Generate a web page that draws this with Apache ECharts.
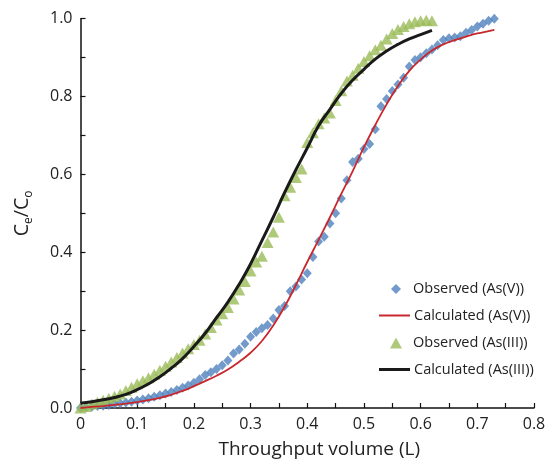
<!DOCTYPE html>
<html>
<head>
<meta charset="utf-8">
<script src="https://cdn.jsdelivr.net/npm/echarts@6/dist/echarts.min.js"></script>
<style>
  html, body { margin: 0; padding: 0; background: #fff; }
  #chart { width: 552px; height: 465px; }
</style>
</head>
<body>
<div id="chart"></div>
<script>
// Breakthrough curves: throughput volume (L) vs. Ce/Co

// Observed As(V)
const obsVx = [0.00,0.01,0.02,0.03,0.04,0.05,0.06,0.07,0.08,0.09,0.10,0.11,0.12,0.13,0.14,0.15,0.16,0.17,0.18,0.19,
  0.20,0.21,0.22,0.23,0.24,0.25,0.26,0.27,0.28,0.29,0.30,0.31,0.32,0.33,0.34,0.35,0.36,0.37,0.38,0.39,
  0.40,0.41,0.42,0.43,0.44,0.45,0.46,0.47,0.48,0.49,0.50,0.51,0.52,0.53,0.54,0.55,0.56,0.57,0.58,0.59,
  0.60,0.61,0.62,0.63,0.64,0.65,0.66,0.67,0.68,0.69,0.70,0.71,0.72,0.73];
const obsVy = [0.000,0.002,0.003,0.005,0.006,0.008,0.010,0.012,0.014,0.016,0.019,0.022,0.025,0.029,0.033,0.037,0.041,0.046,0.052,0.058,
  0.065,0.074,0.085,0.092,0.100,0.110,0.122,0.140,0.150,0.165,0.183,0.195,0.205,0.213,0.230,0.252,0.262,0.300,0.312,0.330,
  0.346,0.388,0.428,0.440,0.474,0.500,0.538,0.585,0.632,0.640,0.665,0.678,0.716,0.775,0.794,0.814,0.831,0.848,0.877,0.894,
  0.901,0.911,0.921,0.932,0.945,0.950,0.952,0.955,0.964,0.971,0.980,0.987,0.995,1.000];

// Calculated As(V)
const calcVx = [0.00,0.02,0.04,0.06,0.08,0.10,0.12,0.14,0.16,0.18,0.20,0.22,0.24,0.26,0.28,0.30,0.32,0.34,0.36,0.38,
  0.40,0.42,0.44,0.46,0.48,0.50,0.52,0.54,0.56,0.58,0.60,0.62,0.64,0.66,0.68,0.70,0.72,0.73];
const calcVy = [0.000,0.003,0.005,0.008,0.011,0.015,0.020,0.026,0.034,0.044,0.056,0.069,0.083,0.099,0.119,0.142,0.172,0.212,0.260,0.316,
  0.375,0.432,0.490,0.550,0.608,0.670,0.727,0.780,0.827,0.866,0.895,0.918,0.934,0.945,0.954,0.962,0.968,0.971];

// Observed As(III)
const obsIIIx = [0.00,0.01,0.02,0.03,0.04,0.05,0.06,0.07,0.08,0.09,0.10,0.11,0.12,0.13,0.14,0.15,0.16,0.17,0.18,0.19,
  0.20,0.21,0.22,0.23,0.24,0.25,0.26,0.27,0.28,0.29,0.30,0.31,0.32,0.33,0.34,0.35,0.36,0.37,0.38,0.39,
  0.40,0.41,0.42,0.43,0.44,0.45,0.46,0.47,0.48,0.49,0.50,0.51,0.52,0.53,0.54,0.55,0.56,0.57,0.58,0.59,
  0.60,0.61,0.62];
const obsIIIy = [0.000,0.004,0.010,0.015,0.020,0.025,0.030,0.036,0.045,0.053,0.062,0.070,0.078,0.087,0.097,0.107,0.118,0.130,0.141,0.152,
  0.163,0.174,0.190,0.207,0.226,0.242,0.258,0.280,0.303,0.325,0.352,0.375,0.390,0.425,0.452,0.490,0.545,0.567,0.592,0.614,
  0.682,0.707,0.730,0.745,0.758,0.790,0.815,0.840,0.855,0.873,0.890,0.905,0.920,0.932,0.948,0.962,0.972,0.980,0.987,0.992,
  0.995,0.996,0.995];

// Calculated As(III)
const calcIIIx = [0.00,0.02,0.04,0.06,0.08,0.10,0.12,0.14,0.16,0.18,0.20,0.22,0.24,0.26,0.28,0.30,0.32,0.34,0.36,0.38,
  0.40,0.42,0.44,0.46,0.48,0.50,0.52,0.54,0.56,0.58,0.60,0.62];
const calcIIIy = [0.012,0.016,0.021,0.027,0.035,0.047,0.062,0.080,0.102,0.127,0.158,0.192,0.232,0.272,0.318,0.370,0.430,0.490,0.553,0.612,
  0.668,0.725,0.767,0.808,0.842,0.870,0.896,0.917,0.934,0.948,0.959,0.970];

const xTicks = { min: 0, max: 0.8, step: 0.1 };
const yTicks = { min: 0, max: 1.0, step: 0.2 };

const seriesNames = ['Observed (As(V))', 'Calculated (As(V))', 'Observed (As(III))', 'Calculated (As(III))'];

const pairs = (xs, ys) => xs.map((x, i) => [x, ys[i]]);

const FONT = 'Open Sans';
const INK = '#222';
const chart = echarts.init(document.getElementById('chart'), null, { renderer: 'canvas' });

const axisCommon = {
  axisLine: { show: true, onZero: false, lineStyle: { color: '#111', width: 1.5 } },
  axisTick: { show: true, inside: true, length: 5, lineStyle: { color: '#111', width: 1.2 } },
  minorTick: { show: true, splitNumber: 2, length: 5, lineStyle: { color: '#111', width: 1.2 } },
  splitLine: { show: false },
  axisLabel: { color: INK, fontSize: 16, fontFamily: FONT, margin: 8 }
};

// One legend box per entry so each icon keeps its own shape and size
const legendTextStyle = { fontSize: 14.5, fontFamily: FONT, color: INK, lineHeight: 16 };
function legendEntry(name, top, left, w, h, icon, padLeft) {
  return {
    show: true, orient: 'horizontal', padding: 0,
    left: left, top: top, itemWidth: w, itemHeight: h,
    selectedMode: false,
    textStyle: Object.assign({}, legendTextStyle, { padding: [0, 0, 0, padLeft] }),
    data: [{ name: name, icon: icon }]
  };
}

chart.setOption({
  animation: false,
  backgroundColor: '#fff',
  grid: { left: 80.5, right: 18, top: 18.7, bottom: 54, containLabel: false },
  xAxis: Object.assign({}, axisCommon, {
    type: 'value',
    min: xTicks.min, max: xTicks.max, interval: xTicks.step,
    name: 'Throughput volume (L)',
    nameLocation: 'middle', nameGap: 32,
    nameTextStyle: { color: INK, fontSize: 19, fontFamily: FONT, lineHeight: 20, padding: [0, 0, 0, 24] },
    axisLabel: Object.assign({}, axisCommon.axisLabel, {
      formatter: v => (v === 0 ? '0' : v.toFixed(1))
    })
  }),
  yAxis: Object.assign({}, axisCommon, {
    type: 'value',
    min: yTicks.min, max: yTicks.max, interval: yTicks.step,
    name: '{c|C}{s|e}{c|/C}{s|o}',
    nameLocation: 'middle', nameGap: 46,
    nameTextStyle: {
      color: INK, fontFamily: FONT,
      rich: {
        c: { fontSize: 19.5, fontFamily: FONT, color: INK, lineHeight: 24, verticalAlign: 'middle' },
        s: { fontSize: 12, fontFamily: FONT, color: INK, lineHeight: 24, verticalAlign: 'bottom' }
      }
    },
    axisLabel: Object.assign({}, axisCommon.axisLabel, {
      formatter: v => v.toFixed(1)
    })
  }),
  legend: [
    legendEntry(seriesNames[0], 281, 391, 10, 10, 'diamond', 7),
    legendEntry(seriesNames[1], 307.5, 379, 31, 2, 'rect', -1),
    legendEntry(seriesNames[2], 335, 390, 12, 11, 'triangle', 6),
    legendEntry(seriesNames[3], 361.5, 379, 31, 3, 'rect', -1)
  ],
  series: [
    {
      name: seriesNames[0], type: 'scatter',
      data: pairs(obsVx, obsVy),
      symbol: 'diamond', symbolSize: [9, 10],
      itemStyle: { color: '#4f81bd' }, z: 2
    },
    {
      name: seriesNames[1], type: 'line',
      data: pairs(calcVx, calcVy),
      smooth: true, symbol: 'none', showSymbol: false,
      lineStyle: { color: '#c8282d', width: 1.8 },
      itemStyle: { color: '#c8282d' }, z: 3
    },
    {
      name: seriesNames[2], type: 'scatter',
      data: pairs(obsIIIx, obsIIIy),
      symbol: 'triangle', symbolSize: [12, 11],
      itemStyle: { color: '#9bbb59' }, z: 2
    },
    {
      name: seriesNames[3], type: 'line',
      data: pairs(calcIIIx, calcIIIy),
      smooth: true, symbol: 'none', showSymbol: false,
      lineStyle: { color: '#1a1a1a', width: 3 },
      itemStyle: { color: '#1a1a1a' }, z: 3
    }
  ]
});
</script>
</body>
</html>
